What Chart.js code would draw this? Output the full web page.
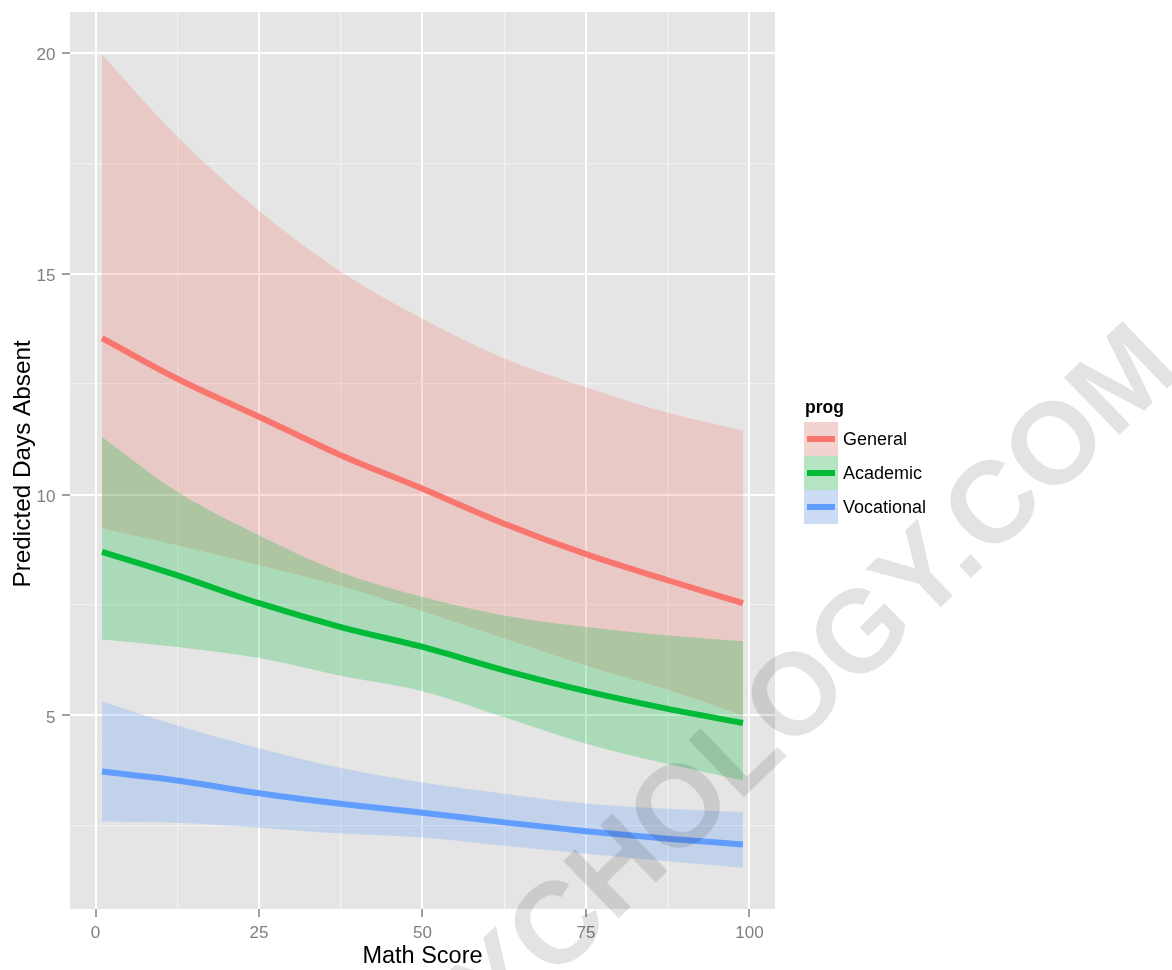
<!DOCTYPE html>
<html><head><meta charset="utf-8">
<script src="https://cdn.jsdelivr.net/npm/chart.js@4.4.1/dist/chart.umd.min.js"></script>
<style>html,body{margin:0;padding:0;background:#fff;}canvas{display:block;}</style>
</head><body>
<canvas id="c" width="1172" height="970"></canvas>
<script>
// ---- data ----
const mathScore       = [1, 12.5, 25, 37.5, 50, 62.5, 75, 87.5, 99];
const generalFit      = [13.54, 12.62, 11.76, 10.89, 10.13, 9.34, 8.65, 8.06, 7.54];
const generalUpper    = [19.95, 18.10, 16.42, 15.04, 13.98, 13.08, 12.43, 11.85, 11.45];
const generalLower    = [9.23, 8.85, 8.40, 7.93, 7.36, 6.74, 6.13, 5.58, 5.00];
const academicFit     = [8.70, 8.17, 7.54, 7.00, 6.55, 6.02, 5.55, 5.15, 4.83];
const academicUpper   = [11.30, 10.06, 9.08, 8.24, 7.68, 7.26, 7.00, 6.81, 6.68];
const academicLower   = [6.72, 6.55, 6.30, 5.90, 5.55, 4.96, 4.36, 3.90, 3.53];
const vocationalFit   = [3.73, 3.53, 3.24, 3.00, 2.80, 2.58, 2.38, 2.21, 2.08];
const vocationalUpper = [5.32, 4.77, 4.26, 3.81, 3.48, 3.23, 3.01, 2.89, 2.81];
const vocationalLower = [2.60, 2.57, 2.46, 2.33, 2.24, 2.05, 1.87, 1.70, 1.55];

const xMajorTicks = [0, 25, 50, 75, 100];
const xMinorTicks = [12.5, 37.5, 62.5, 87.5];
const yMajorTicks = [5, 10, 15, 20];
const yMinorTicks = [2.5, 7.5, 12.5, 17.5];
const seriesNames = ['General', 'Academic', 'Vocational'];
const legendTitle = 'prog';
const xTitle = 'Math Score';
const yTitle = 'Predicted Days Absent';
const watermarkText = 'PSYCHOLOGY.COM';

// ---- styles ----
const FONT = '"Liberation Sans", Arial, sans-serif';
const lineColors = ['#F8766D', '#00BA38', '#619CFF'];
const bandColors = ['rgba(248,118,109,0.25)', 'rgba(0,186,56,0.25)', 'rgba(97,156,255,0.25)'];
const PANEL = '#E5E5E5';

function pts(ys) { return mathScore.map((x, i) => ({ x: x, y: ys[i] })); }

function band(ys, color, fill, order) {
  return { data: pts(ys), fill: fill, backgroundColor: color, borderColor: 'transparent',
           borderWidth: 0, pointRadius: 0, cubicInterpolationMode: 'monotone', order: order };
}
function fitLine(ys, color, order) {
  return { data: pts(ys), fill: false, borderColor: color, borderWidth: 6, pointRadius: 0,
           borderCapStyle: 'butt', cubicInterpolationMode: 'monotone', order: order };
}

const datasets = [
  band(generalUpper, bandColors[0], '+1', 9),
  band(generalLower, bandColors[0], false, 8),
  band(academicUpper, bandColors[1], '+1', 7),
  band(academicLower, bandColors[1], false, 6),
  band(vocationalUpper, bandColors[2], '+1', 5),
  band(vocationalLower, bandColors[2], false, 4),
  fitLine(generalFit, lineColors[0], 3),
  fitLine(academicFit, lineColors[1], 2),
  fitLine(vocationalFit, lineColors[2], 1)
];

const isMajor = (list, v) => list.some(m => Math.abs(m - v) < 1e-9);

const bgPlugin = {
  id: 'bg',
  beforeDraw(chart) {
    const { ctx, chartArea: a } = chart;
    ctx.save();
    ctx.fillStyle = '#FFFFFF';
    ctx.fillRect(0, 0, chart.width, chart.height);
    ctx.fillStyle = PANEL;
    ctx.fillRect(a.left, a.top, a.right - a.left, a.bottom - a.top);
    ctx.restore();
  }
};

const legendPlugin = {
  id: 'ggLegend',
  afterDraw(chart) {
    const ctx = chart.ctx;
    ctx.save();
    ctx.fillStyle = '#000';
    ctx.font = 'bold 17.5px ' + FONT;
    ctx.textAlign = 'left';
    ctx.textBaseline = 'alphabetic';
    ctx.fillText(legendTitle, 805, 413);
    const kx = 804, ky = 422, ks = 34;
    seriesNames.forEach((name, i) => {
      const y = ky + i * ks;
      ctx.fillStyle = '#F2F2F2';
      ctx.fillRect(kx, y, ks, ks);
      ctx.fillStyle = bandColors[i];
      ctx.fillRect(kx, y, ks, ks);
      ctx.strokeStyle = lineColors[i];
      ctx.lineWidth = 6;
      ctx.beginPath();
      ctx.moveTo(kx + 3, y + ks / 2);
      ctx.lineTo(kx + ks - 3, y + ks / 2);
      ctx.stroke();
      ctx.fillStyle = '#000';
      ctx.font = '18px ' + FONT;
      ctx.textBaseline = 'middle';
      ctx.fillText(name, 843, y + ks / 2 + 1);
    });
    // watermark
    ctx.translate(1161, 350);
    ctx.rotate(-44 * Math.PI / 180);
    ctx.font = 'bold 116px ' + FONT;
    ctx.fillStyle = 'rgba(0,0,0,0.11)';
    ctx.textAlign = 'right';
    ctx.textBaseline = 'middle';
    ctx.fillText(watermarkText, 0, 0);
    ctx.restore();
  }
};

function gridOpts(majors) {
  return {
    color: c => (c.tick && isMajor(majors, c.tick.value)) ? '#FFFFFF' : '#F2F2F2',
    lineWidth: c => (c.tick && isMajor(majors, c.tick.value)) ? 2 : 1.2,
    tickColor: c => (c.tick && isMajor(majors, c.tick.value)) ? '#7F7F7F' : 'rgba(0,0,0,0)',
    tickWidth: 1.5,
    tickLength: 8,
    drawTicks: true
  };
}

new Chart(document.getElementById('c'), {
  type: 'line',
  data: { datasets: datasets },
  plugins: [bgPlugin, legendPlugin],
  options: {
    responsive: false,
    devicePixelRatio: 1,
    animation: false,
    layout: { padding: { left: 0, top: 12, right: 397, bottom: 0 } },
    plugins: { legend: { display: false }, tooltip: { enabled: false } },
    scales: {
      x: {
        type: 'linear', min: -3.9, max: 103.9,
        afterBuildTicks: s => { s.ticks = xMajorTicks.concat(xMinorTicks).sort((a, b) => a - b).map(v => ({ value: v })); },
        afterFit: s => { s.height = 61; },
        border: { display: false },
        grid: gridOpts(xMajorTicks),
        ticks: { autoSkip: false, maxRotation: 0, padding: 6.5, color: '#7F7F7F',
                 font: { family: FONT, size: 17 },
                 callback: v => isMajor(xMajorTicks, v) ? String(v) : '' },
        title: { display: true, text: xTitle, color: '#000',
                 font: { family: FONT, size: 23.5, lineHeight: 1 }, padding: { top: 0, bottom: 2 } }
      },
      y: {
        type: 'linear', min: 0.62, max: 20.92,
        afterBuildTicks: s => { s.ticks = yMajorTicks.concat(yMinorTicks).sort((a, b) => a - b).map(v => ({ value: v })); },
        afterFit: s => { s.width = 70; },
        border: { display: false },
        grid: gridOpts(yMajorTicks),
        ticks: { autoSkip: false, padding: 6.5, color: '#7F7F7F',
                 font: { family: FONT, size: 17, lineHeight: 0.3 },
                 callback: v => isMajor(yMajorTicks, v) ? ['', String(v)] : '' },
        title: { display: true, text: yTitle + ' ', color: '#000',
                 font: { family: FONT, size: 24.3, lineHeight: 1 }, padding: { top: 11, bottom: 0 } }
      }
    }
  }
});
</script>
</body></html>
